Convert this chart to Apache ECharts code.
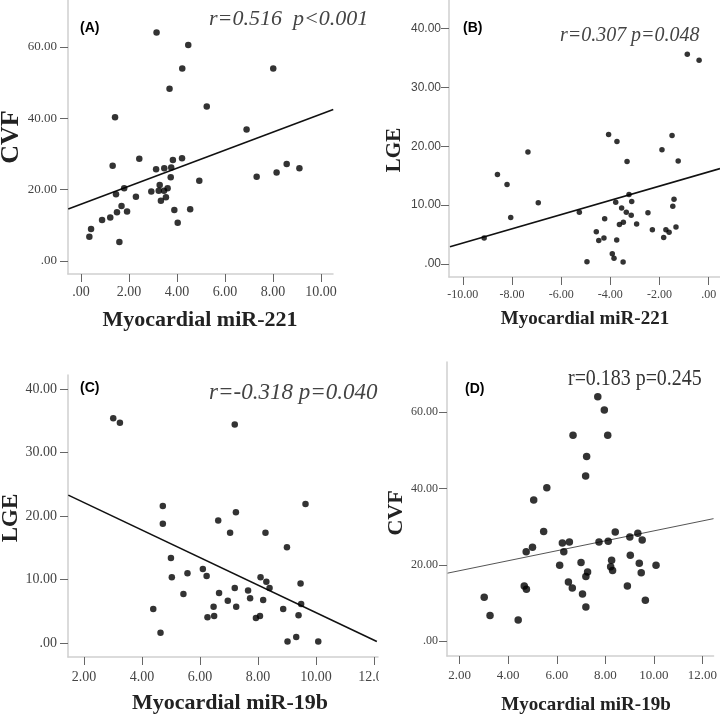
<!DOCTYPE html>
<html><head><meta charset="utf-8">
<script src="https://cdn.jsdelivr.net/npm/echarts@6/dist/echarts.min.js"></script>
<style>html,body{margin:0;padding:0;background:#fff}#c{width:720px;height:720px}</style>
</head><body><div id="c"></div>
<script>
// Panel A: miR-221 vs CVF
const aX = [3.15,4.47,4.22,8.01,3.69,5.24,1.42,6.90,8.57,9.10,8.15,7.32,1.32,2.43,3.83,4.21,3.13,3.47,3.76,3.74,4.93,3.28,2.93,3.24,3.46,3.61,3.54,3.33,2.29,1.80,1.46,1.69,1.50,1.92,1.22,0.88,3.89,4.55,4.03,0.42,0.35,1.60];
const aY = [64.1,60.6,54.0,54.0,48.3,43.3,40.3,36.9,27.2,26.0,24.8,23.6,26.7,28.7,28.3,28.8,25.7,26.0,26.2,23.5,22.5,21.3,19.5,19.7,19.7,20.4,17.9,16.9,18.0,20.4,18.7,15.4,13.7,13.9,12.2,11.5,14.3,14.5,10.7,9.0,6.8,5.3];
const aLineX = [-0.53, 10.51];
const aLineY = [14.6, 42.5];
// Panel B: miR-221 vs LGE
const bX = [-0.87,-0.39,-4.07,-3.73,-1.49,-1.90,-7.35,-3.32,-1.24,-8.59,-8.20,-6.93,-8.05,-9.13,-5.26,-3.24,-3.78,-3.13,-3.54,-3.35,-3.15,-4.23,-3.47,-3.63,-2.93,-2.47,-1.41,-1.46,-1.33,-2.29,-1.74,-1.61,-1.83,-4.57,-4.47,-4.26,-3.74,-3.92,-3.85,-3.48,-4.95];
const bY = [35.6,34.6,22.0,20.8,21.8,19.4,19.0,17.4,17.5,15.2,13.5,10.4,7.9,4.4,8.8,11.8,10.5,10.6,9.5,8.8,8.3,7.7,7.1,6.7,6.8,8.7,11.0,9.8,6.3,5.8,5.8,5.4,4.5,5.5,4.0,4.4,4.1,1.75,0.97,0.34,0.4];
const bLineX = [-10.52, 0.46];
const bLineY = [2.94, 16.2];
// Panel C: miR-19b vs LGE
const cX = [3.01,3.24,7.20,4.72,9.64,7.24,4.72,6.63,7.04,8.26,9.00,5.00,5.03,5.57,6.10,6.23,5.43,4.39,4.64,6.66,7.20,6.96,7.25,6.47,6.26,6.49,7.66,7.73,8.09,8.29,8.40,8.18,7.93,8.07,8.87,9.47,9.49,9.40,9.02,9.32,10.08];
const cY = [35.4,34.7,34.4,21.6,21.9,20.6,18.8,19.3,17.4,17.4,15.1,13.4,10.4,11.0,11.7,10.6,7.75,5.4,1.67,7.9,8.7,6.7,5.75,5.75,4.1,4.3,8.3,7.1,10.4,9.7,8.7,6.8,4.0,4.3,5.4,9.4,6.2,4.4,0.3,1.0,0.3];
const cLineX = [1.46, 12.1];
const cLineY = [23.3, 0.3];
// Panel D: miR-19b vs CVF
const dX = [7.69,7.96,6.67,8.10,7.23,7.19,5.59,5.05,5.46,4.74,5.00,6.23,6.52,6.29,7.74,8.12,8.41,9.01,9.34,9.52,9.03,9.40,9.48,10.09,6.12,7.00,8.26,8.22,8.30,7.27,7.20,6.48,6.64,4.66,4.75,7.06,8.91,9.65,7.20,3.01,3.25,4.41];
const dY = [64.1,60.6,54.0,54.0,48.4,43.3,40.2,37.0,28.7,23.4,24.6,25.7,26.0,23.4,26.0,26.2,28.6,27.3,28.3,26.5,22.5,20.4,17.9,19.9,19.9,20.6,21.2,19.5,18.5,18.1,16.9,15.5,13.9,14.4,13.6,12.3,14.4,10.7,8.9,11.5,6.7,5.5];
const dLineX = [1.5, 12.46];
const dLineY = [17.8, 32.1];

// tick values
const aXTicks = [0,2,4,6,8,10];
const aYTicks = [0,20,40,60];
const bXTicks = [-10,-8,-6,-4,-2,0];
const bYTicks = [0,10,20,30,40];
const cXTicks = [2,4,6,8,10,12];
const cYTicks = [0,10,20,30,40];
const dXTicks = [2,4,6,8,10,12];
const dYTicks = [0,20,40,60];

const zip = (xs, ys) => xs.map((x, i) => [x, ys[i]]);
const fmt = v => (v === 0 ? '.00' : v.toFixed(2));
const SERIF = 'Liberation Serif';
const SANS = 'Liberation Sans';

function axis(opts) {
  return {
    type: 'value', gridIndex: opts.g, min: opts.min, max: opts.max,
    axisLine: { show: true, onZero: false, lineStyle: { color: '#cfcfcf', width: 1.5 } },
    axisTick: { show: true, length: 8, customValues: opts.ticks, lineStyle: { color: '#666', width: 1 } },
    axisLabel: { show: true, customValues: opts.ticks, formatter: fmt, margin: opts.margin,
      fontFamily: opts.font, fontSize: opts.size, color: '#444' },
    splitLine: { show: false }
  };
}

const grids = [
  { left: 68, top: 0, width: 265, height: 274 },
  { left: 449, top: 0, width: 271, height: 277 },
  { left: 68, top: 375, width: 310, height: 282 },
  { left: 447, top: 362, width: 273, height: 294 }
];

const xAxes = [
  axis({ g: 0, min: -0.54, max: 10.5, ticks: aXTicks, margin: 11, font: SERIF, size: 14 }),
  axis({ g: 1, min: -10.56, max: 0.46, ticks: bXTicks, margin: 12, font: SERIF, size: 12 }),
  axis({ g: 2, min: 1.45, max: 12.14, ticks: cXTicks, margin: 13, font: SERIF, size: 14 }),
  axis({ g: 3, min: 1.477, max: 12.46, ticks: dXTicks, margin: 13, font: SERIF, size: 13 })
];
const yAxes = [
  axis({ g: 0, min: -3.65, max: 73.2, ticks: aYTicks, margin: 11, font: SERIF, size: 13 }),
  axis({ g: 1, min: -2.2, max: 44.82, ticks: bYTicks, margin: 8, font: SANS, size: 12 }),
  axis({ g: 2, min: -2.15, max: 42.19, ticks: cYTicks, margin: 11, font: SERIF, size: 14 }),
  axis({ g: 3, min: -3.94, max: 73.2, ticks: dYTicks, margin: 9, font: SERIF, size: 12 })
];

function scat(i, data, size) {
  return { type: 'scatter', xAxisIndex: i, yAxisIndex: i, data, symbolSize: size,
    itemStyle: { color: '#000' }, silent: true, z: 3 };
}
function fit(i, data, color, width) {
  return { type: 'line', xAxisIndex: i, yAxisIndex: i, data, symbol: 'none',
    lineStyle: { color, width }, silent: true, z: 2 };
}

function txt(x, y, text, font, extra) {
  return Object.assign({ type: 'text', x, y, z: 50,
    style: Object.assign({ text, fill: '#000', textAlign: 'left', textVerticalAlign: 'middle',
      align: 'left', verticalAlign: 'middle' }, font) }, extra || {});
}

const graphic = [
  { type: 'rect', shape: { x: 379, y: 659, width: 30, height: 30 }, style: { fill: '#fff' }, z: 40 },
  txt(80, 28, '(A)', { fontFamily: SANS, fontWeight: 'bold', fontSize: 14 }),
  txt(463, 28, '(B)', { fontFamily: SANS, fontWeight: 'bold', fontSize: 14 }),
  txt(80, 388, '(C)', { fontFamily: SANS, fontWeight: 'bold', fontSize: 14 }),
  txt(465, 389, '(D)', { fontFamily: SANS, fontWeight: 'bold', fontSize: 14 }),
  txt(209, 19, 'r=0.516  p<0.001', { fontFamily: SERIF, fontStyle: 'italic', fontSize: 22, fill: '#444' }),
  txt(560, 35, 'r=0.307 p=0.048', { fontFamily: SERIF, fontStyle: 'italic', fontSize: 21, fill: '#444' }, { scaleX: 0.95 }),
  txt(209, 393, 'r=-0.318 p=0.040', { fontFamily: SERIF, fontStyle: 'italic', fontSize: 23, fill: '#444' }),
  txt(568, 379, 'r=0.183 p=0.245', { fontFamily: SERIF, fontSize: 24, fill: '#333' }, { scaleX: 0.83 }),
  // axis titles
  txt(200, 320, 'Myocardial miR-221', { fontFamily: SERIF, fontWeight: 'bold', fontSize: 22, fill: '#222', textAlign: 'center', align: 'center' }),
  txt(585, 319, 'Myocardial miR-221', { fontFamily: SERIF, fontWeight: 'bold', fontSize: 19, fill: '#222', textAlign: 'center', align: 'center' }),
  txt(230, 703, 'Myocardial miR-19b', { fontFamily: SERIF, fontWeight: 'bold', fontSize: 22, fill: '#222', textAlign: 'center', align: 'center' }),
  txt(586, 705, 'Myocardial miR-19b', { fontFamily: SERIF, fontWeight: 'bold', fontSize: 19, fill: '#222', textAlign: 'center', align: 'center' }),
  txt(11, 137, 'CVF', { fontFamily: SERIF, fontWeight: 'bold', fontSize: 26, fill: '#222', textAlign: 'center', align: 'center' }, { rotation: Math.PI / 2 }),
  txt(395, 150, 'LGE', { fontFamily: SERIF, fontWeight: 'bold', fontSize: 21, fill: '#222', textAlign: 'center', align: 'center' }, { rotation: Math.PI / 2 }),
  txt(11, 518, 'LGE', { fontFamily: SERIF, fontWeight: 'bold', fontSize: 23, fill: '#222', textAlign: 'center', align: 'center' }, { rotation: Math.PI / 2 }),
  txt(396, 513, 'CVF', { fontFamily: SERIF, fontWeight: 'bold', fontSize: 22, fill: '#222', textAlign: 'center', align: 'center' }, { rotation: Math.PI / 2 })
];

const chart = echarts.init(document.getElementById('c'), null, { renderer: 'canvas' });
chart.setOption({
  animation: false,
  backgroundColor: '#fff',
  grid: grids,
  xAxis: xAxes,
  yAxis: yAxes,
  series: [
    scat(0, zip(aX, aY), 6.5), fit(0, zip(aLineX, aLineY), '#111', 1.6),
    scat(1, zip(bX, bY), 5.5), fit(1, zip(bLineX, bLineY), '#111', 1.6),
    scat(2, zip(cX, cY), 6.5), fit(2, zip(cLineX, cLineY), '#111', 1.6),
    scat(3, zip(dX, dY), 7.5), fit(3, zip(dLineX, dLineY), '#555', 1)
  ],
  graphic: graphic
});
</script>
</body></html>
